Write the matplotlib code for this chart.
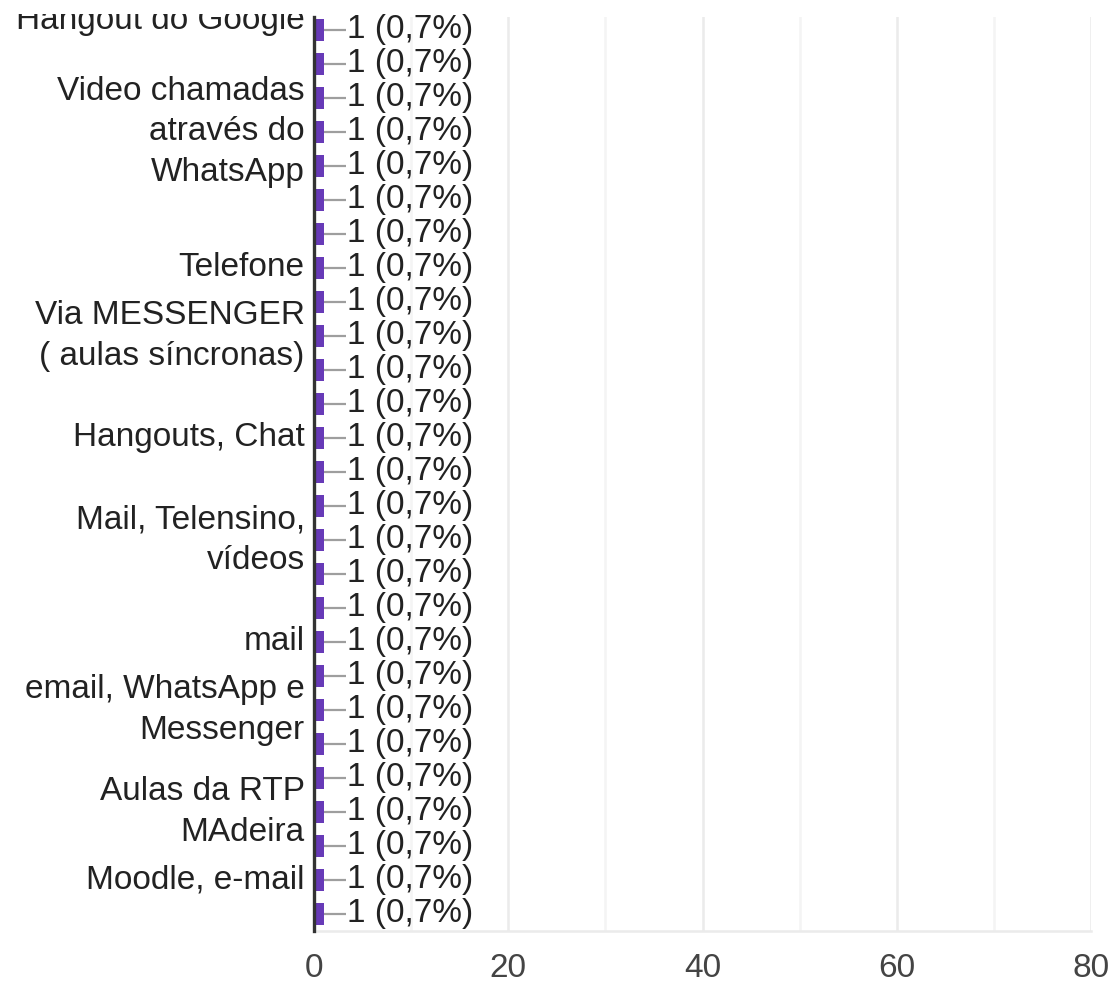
import numpy as np
import matplotlib
matplotlib.use("Agg")
import matplotlib.pyplot as plt
import matplotlib.transforms as mtransforms

plt.rcParams['font.family'] = ['Liberation Sans', 'DejaVu Sans']

# 27 answers, each given once (1 = 0,7%)
values = [1] * 27
value_labels = ['1 (0,7%)'] * 27

# category text shown at the left, placed at the row it is centred on
label_rows = [3, 7, 9, 12, 15, 18, 20, 23, 25]
label_texts = ['Video chamadas\natravés do\nWhatsApp',
               'Telefone',
               'Via MESSENGER\n( aulas síncronas)',
               'Hangouts, Chat',
               'Mail, Telensino,\nvídeos',
               'mail',
               'email, WhatsApp e\nMessenger',
               'Aulas da RTP\nMAdeira',
               'Moodle, e-mail']
top_label = 'Hangout do Google'   # cut off by the top edge

xticks = [0, 20, 40, 60, 80]

W, H = 1115, 989
fig = plt.figure(figsize=(W / 100, H / 100), dpi=100)
ax = fig.add_axes([314 / W, 58 / H, 777 / W, 914 / H])

rows = np.arange(len(values))
ax.barh(rows, values, height=0.67, color='#673ab7', zorder=3)

for r, v, t in zip(rows, values, value_labels):
    ax.plot([v, v + 2.3], [r, r], color='#9e9e9e', lw=1.6, zorder=3, solid_capstyle='butt')
    ax.text(v + 2.4, r, t, fontsize=24, color='#222222', va='center', ha='left', zorder=4)

trans = mtransforms.blended_transform_factory(ax.transAxes, ax.transData)
for r, t in zip(label_rows, label_texts):
    ax.text(-0.012, r, t, transform=trans, ha='right', va='center', fontsize=24,
            color='#222222', linespacing=1.38, multialignment='right')

# the first label is scrolled out of view, only its lower part shows
clip = mtransforms.TransformedBbox(
    mtransforms.Bbox([[0, 0], [1, 1 - 14 / H]]), fig.transFigure)
tl = ax.text(-0.012, -0.03, top_label, transform=trans, ha='right', va='baseline',
             fontsize=24, color='#222222')
tl.set_clip_box(clip)
tl.set_clip_on(True)

ax.set_xlim(0, 80)
ax.set_ylim(26.5, -0.38)
ax.set_xticks(xticks)
ax.set_xticks(np.arange(10, 81, 20), minor=True)
ax.set_yticks([])
ax.grid(True, axis='x', which='major', color='#ebebeb', lw=1.8, zorder=0)
ax.grid(True, axis='x', which='minor', color='#f4f4f4', lw=1.8, zorder=0)
ax.tick_params(axis='x', which='both', length=0, labelsize=24, labelcolor='#444444', pad=16)

for s in ['top', 'right']:
    ax.spines[s].set_visible(False)
ax.spines['left'].set_color('#333333')
ax.spines['left'].set_linewidth(2.4)
ax.spines['left'].set_zorder(5)
ax.spines['bottom'].set_color('#ebebeb')
ax.spines['bottom'].set_linewidth(1.8)

fig.savefig('out.png', dpi=100)
